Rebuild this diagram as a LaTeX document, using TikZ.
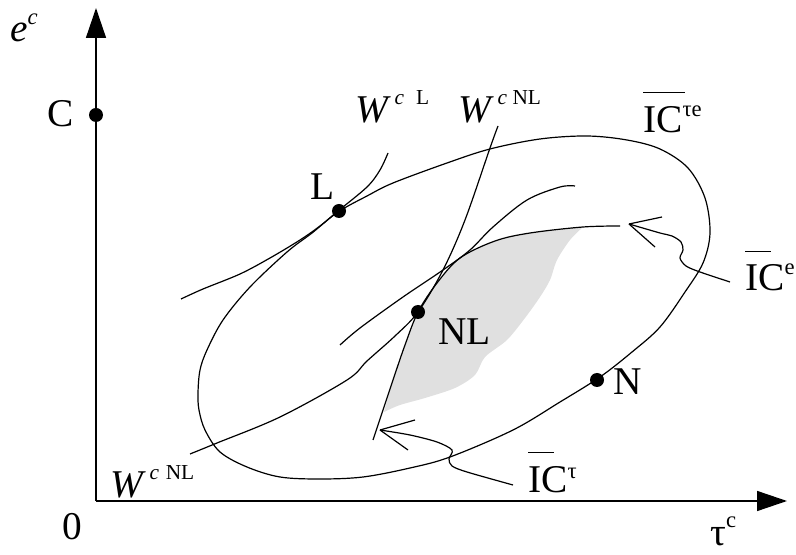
\documentclass[tikz,border=0pt]{standalone}
\usepackage{fontspec}
\setmainfont{Liberation Serif}
\usetikzlibrary{arrows.meta}
\newcommand\bigtxt{\fontsize{29.5}{32}\selectfont}
\newcommand\supsz{\fontsize{17}{17}\selectfont}
\newcommand\wsupsz{\fontsize{16}{16}\selectfont}
\newcommand\barover[2]{\rlap{\rule[#1]{#2}{0.7pt}}}
\begin{document}
\begin{tikzpicture}[x=0.75pt,y=-0.75pt,
  curve/.style={line width=0.9pt, line join=round},
  axis/.style={line width=1.1pt, -{Triangle[length=22.5pt,width=15pt]}},
  lbl/.style={font=\bigtxt, inner sep=0pt, anchor=base west},
  dot/.style={circle, fill=black, inner sep=0pt, minimum size=10.5pt}]
\useasboundingbox (0,0) rectangle (796,555);

% shaded region
\fill[gray!24] plot[smooth, tension=0.5] coordinates {(384,412) (393,380) (405,345) (418,312) (437,283) (460,258) (495,241) (530,233) (583,227)}
  -- plot[smooth, tension=0.5] coordinates {(583,227) (570,240) (557,260) (550,280) (540,297) (525,318) (507,340) (485,357) (475,375) (455,388) (425,398) (400,405) (384,412)} -- cycle;

% axes
\coordinate (O) at (96,501);
\coordinate (ytop) at (96,8);
\coordinate (xend) at (787,501);
\draw[axis] (O) -- (ytop);
\draw[axis] (O) -- (xend);

% ellipse IC^{tau e}
\draw[curve] plot[smooth cycle, tension=0.55] coordinates {(198,393) (200,370) (207,350) (223,320) (250,287) (287,252) (312,233) (338,212) (367,196) (393,183) (447,163) (490,149) (540,139) (587,136) (627,140) (660,149) (688,168) (705,198) (710,233) (703,263) (685,292) (660,327) (632,352) (600,377) (560,402) (513,430) (450,457) (410,468) (363,477) (320,479) (280,477) (247,467) (220,452) (205,430) (199,410)};

% W^{c L}
\draw[curve] plot[smooth, tension=0.55] coordinates {(181,299) (203,289) (240,274) (270,258) (300,240) (320,226) (338,211) (367,187) (380,170) (388,153)};

% W^{c NL}
\draw[curve] plot[smooth, tension=0.55] coordinates {(190,454) (217,443) (280,417) (347,380) (367,361) (395,336) (418,312) (443,270) (465,220) (490,148) (498,126)};

% IC boundary curve
\draw[curve] plot[smooth, tension=0.55] coordinates {(373,440) (383,410) (393,380) (405,345) (418,312) (437,283) (460,258) (495,241) (530,233) (583,227) (620,226)};

% other curve
\draw[curve] plot[smooth, tension=0.55] coordinates {(340,345) (360,328) (403,297) (443,270) (470,250) (493,227) (527,200) (560,187) (575,186)};

% arrow to IC^e
\coordinate (tipe) at (629,224);
\draw[curve] (tipe) -- ++(33,-7);
\draw[curve] (tipe) -- ++(26,23);
\draw[curve] plot[smooth, tension=0.5] coordinates {(629,224) (660,233) (672,236) (681,242) (683,250) (680,258) (686,266) (700,272) (730,282)};

% arrow to IC^tau
\coordinate (tipt) at (380,430);
\draw[curve] (tipt) -- ++(35,-10);
\draw[curve] (tipt) -- ++(28,20);
\draw[curve] plot[smooth, tension=0.5] coordinates {(380,430) (410,435) (437,442) (452,450) (449,459) (452,466) (467,472) (513,485)};

% dots
\node[dot] (Cdot) at (96,115) {};
\node[dot] (Ldot) at (339,211) {};
\node[dot] (NLdot) at (418,312) {};
\node[dot] (Ndot) at (597,380) {};

% labels
\node[lbl] (ec) at (10,42) {\itshape e\raisebox{13pt}{\supsz c}};
\node[lbl] (clbl) at (47,127) {C};
\node[lbl] (zero) at (62,540) {0};
\node[lbl] (tau) at (710,546) {τ\raisebox{13.5pt}{\supsz c}};
\node[lbl] (llbl) at (310,200) {L};
\node[lbl] (nllbl) at (438,345) {NL};
\node[lbl] (nlbl) at (613,395) {N};
\node[lbl] (wl) at (355,123) {\itshape W\hspace{5pt}\raisebox{13.5pt}{\wsupsz c\hspace{9pt}\upshape L}};
\node[lbl] (wnl) at (458,123) {\itshape W\hspace{5pt}\raisebox{13.5pt}{\wsupsz c\hspace{4pt}\upshape NL}};
\node[lbl] (wnlb) at (110,498) {\itshape W\hspace{5pt}\raisebox{13.5pt}{\wsupsz c\hspace{5pt}\upshape NL}};
\node[lbl] (icte) at (643,133) {\barover{30pt}{31.5pt}IC\raisebox{12pt}{\supsz τe}};
\node[lbl] (ice) at (745,291) {\barover{29pt}{19pt}IC\raisebox{12pt}{\supsz e}};
\node[lbl] (ict) at (528,493) {\barover{30pt}{19pt}IC\raisebox{11pt}{\supsz τ}};
\end{tikzpicture}
\end{document}
